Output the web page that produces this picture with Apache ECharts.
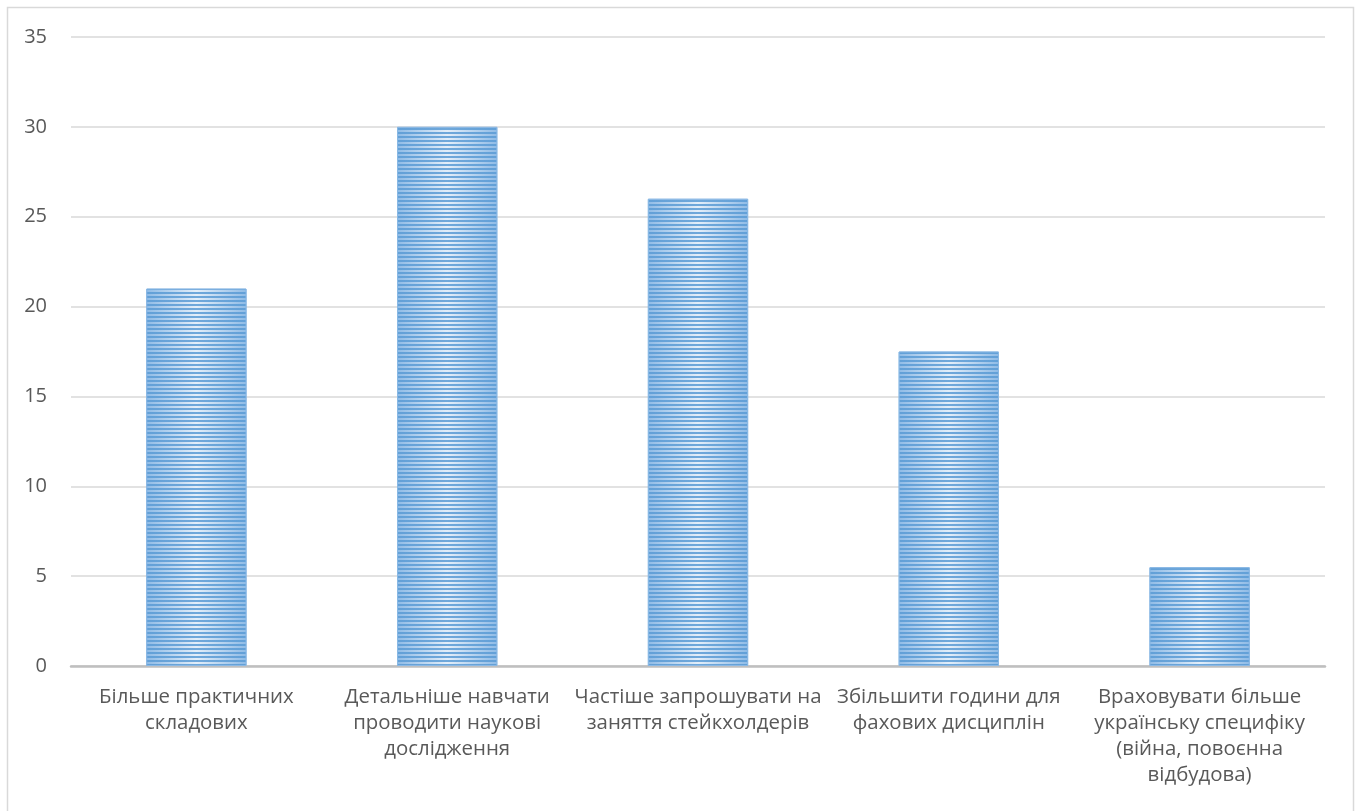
<!DOCTYPE html>
<html>
<head>
<meta charset="utf-8">
<script src="https://cdn.jsdelivr.net/npm/echarts@6/dist/echarts.min.js"></script>
<style>
html,body{margin:0;padding:0;background:#fff;}
#chart{width:1360px;height:811px;}
</style>
</head>
<body>
<div id="chart"></div>
<script>
const categories = [
  "Більше практичних\nскладових",
  "Детальніше навчати\nпроводити наукові\nдослідження",
  "Частіше запрошувати на\nзаняття стейкхолдерів",
  "Збільшити години для\nфахових дисциплін",
  "Враховувати більше\nукраїнську специфіку\n(війна, повоєнна\nвідбудова)"
];
const values = [21, 30, 26, 17.5, 5.5];
const yMin = 0, yMax = 35, yStep = 5;

const chart = echarts.init(document.getElementById('chart'), null, {renderer: 'canvas'});
const font = '"Open Sans", "Noto Sans", sans-serif';
chart.setOption({
  backgroundColor: '#fff',
  animation: false,
  graphic: [{
    type: 'rect',
    shape: {x: 7.5, y: 7.5, width: 1346, height: 820},
    style: {fill: 'none', stroke: '#d9d9d9', lineWidth: 1.5},
    silent: true
  }],
  grid: {left: 71, right: 35, top: 37, bottom: 145},
  xAxis: {
    type: 'category',
    data: categories,
    axisTick: {show: false},
    axisLine: {lineStyle: {color: '#bfbfbf', width: 2.5}},
    axisLabel: {
      color: '#595959', fontSize: 20.4, fontFamily: font,
      lineHeight: 26, margin: 18, interval: 0, align: 'center'
    }
  },
  yAxis: {
    type: 'value',
    min: yMin, max: yMax, interval: yStep,
    axisLine: {show: false},
    axisTick: {show: false},
    splitLine: {lineStyle: {color: '#d9d9d9', width: 1.5}},
    axisLabel: {color: '#595959', fontSize: 20, fontFamily: font, margin: 24}
  },
  series: [{
    type: 'bar',
    data: values,
    barWidth: '40%',
    itemStyle: {
      color: new echarts.graphic.LinearGradient(0, 0, 1, 0, [
        {offset: 0, color: '#8fbbe6'},
        {offset: 0.5, color: '#e3eef9'},
        {offset: 1, color: '#8fbbe6'}
      ]),
      borderColor: '#8ab8e4',
      borderWidth: 1,
      decal: {
        symbol: 'rect',
        symbolSize: 1,
        color: 'rgba(91,155,213,0.85)',
        dashArrayX: [1, 0],
        dashArrayY: [2, 2],
        rotation: 0
      }
    }
  }]
});
</script>
</body>
</html>
